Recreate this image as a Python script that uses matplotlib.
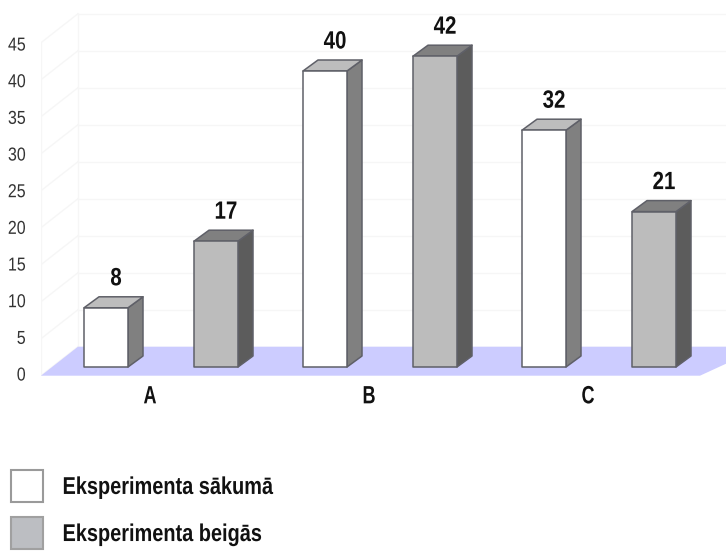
import matplotlib
matplotlib.use("Agg")
import matplotlib.pyplot as plt
from matplotlib.patches import Polygon, Patch
from matplotlib.patheffects import AbstractPathEffect
from matplotlib.transforms import Affine2D
import numpy as np

groups = ["A", "B", "C"]
start_values = [8, 40, 32]
end_values = [17, 42, 21]
series_labels = ["Eksperimenta sākumā", "Eksperimenta beigās"]
value_ticks = [0, 5, 10, 15, 20, 25, 30, 35, 40, 45]

W, H = 726, 552
PX_PER_UNIT = 7.4
PX_PER_GROUP = 219.0
FONT = ["Liberation Sans", "DejaVu Sans"]


class Squeeze(AbstractPathEffect):
    """Condense a text horizontally around its left, centre or right edge."""

    def __init__(self, text, factor, anchor="center"):
        super().__init__()
        self.text, self.factor, self.anchor = text, factor, anchor

    def draw_path(self, renderer, gc, tpath, affine, rgbFace=None):
        bb = self.text.get_window_extent(renderer)
        cx = {"left": bb.x0, "center": (bb.x0 + bb.x1) / 2, "right": bb.x1}[self.anchor]
        squeezed = affine + Affine2D().translate(-cx, 0).scale(self.factor, 1).translate(cx, 0)
        renderer.draw_path(gc, tpath, squeezed, rgbFace)


def condense(text, factor, anchor="center"):
    text.set_path_effects([Squeeze(text, factor, anchor)])


# Pixel-sized extrusion expressed in data units
dx = 15 / PX_PER_GROUP
dy = 11 / PX_PER_UNIT
bar_w = 44 / PX_PER_GROUP
floor_front = -8.7 / PX_PER_UNIT
floor_back = 20.3 / PX_PER_UNIT
wall_dx = 37 / PX_PER_GROUP

fig = plt.figure(figsize=(W / 100, H / 100), dpi=100, facecolor="white")
left, right, bottom, top = 41, 726, 376, 0
ax = fig.add_axes([left / W, 1 - bottom / H, (right - left) / W, (bottom - top) / H])
ax.set_xlim((left - 150) / PX_PER_GROUP, (right - 150) / PX_PER_GROUP)
ax.set_ylim((367 - bottom) / PX_PER_UNIT, (367 - top) / PX_PER_UNIT)
for s in ax.spines.values():
    s.set_visible(False)

x0, x1 = ax.get_xlim()

# Back wall and side wall grid lines
grid_c = "#f6f6f6"
for v in value_ticks:
    ax.plot([x0 + wall_dx, x1], [floor_back + v] * 2, color=grid_c, lw=1, zorder=1)
    ax.plot([x0, x0 + wall_dx], [floor_front + v, floor_back + v], color=grid_c, lw=1, zorder=1)
ax.plot([x0 + 0.002] * 2, [floor_front, floor_front + 45], color=grid_c, lw=1, zorder=1)
ax.plot([x0 + wall_dx] * 2, [floor_back, floor_back + 45], color=grid_c, lw=1, zorder=1)

# Floor
ax.add_patch(Polygon(
    [(x0, floor_front), (x0 + wall_dx, floor_back),
     (x1 + wall_dx, floor_back), ((700 - 150) / PX_PER_GROUP, floor_front)],
    closed=True, fc="#ccccff", ec="none", zorder=2))


def box(x, value, front, lid, side):
    """Draw one extruded bar with its front, top and side faces."""
    edge = dict(ec="#5f6068", lw=1.1, joinstyle="round", zorder=3)
    xr = x + bar_w
    ax.add_patch(Polygon([(xr, 0), (xr + dx, dy), (xr + dx, value + dy), (xr, value)],
                         fc=side, **edge))
    ax.add_patch(Polygon([(x, value), (xr, value), (xr + dx, value + dy), (x + dx, value + dy)],
                         fc=lid, **edge))
    ax.add_patch(Polygon([(x, 0), (xr, 0), (xr, value), (x, value)], fc=front, **edge))
    label = ax.text(x + bar_w / 2 + 10 / PX_PER_GROUP, value + 32 / PX_PER_UNIT, str(value),
                    ha="center", va="center_baseline", fontsize=18, fontweight="bold",
                    family=FONT, color="#111111", zorder=4)
    condense(label, 0.82)


pos = np.arange(len(groups))
for i in pos:
    box(i - 66 / PX_PER_GROUP, start_values[i], "#ffffff", "#bdbdbd", "#808080")
    box(i + 44 / PX_PER_GROUP, end_values[i], "#bcbcbc", "#808080", "#5c5c5c")

ax.set_xticks(pos, groups, family=FONT, fontsize=18, fontweight="bold", color="#111111")
ax.set_yticks(np.array(value_ticks) * 0.991 - 0.95, [str(v) for v in value_ticks],
              family=FONT, fontsize=13.5, color="#333333")
ax.tick_params(axis="x", length=0, pad=6)
ax.tick_params(axis="y", length=0, pad=11)
for t in ax.get_xticklabels():
    condense(t, 0.72)
for t in ax.get_yticklabels():
    t.set_verticalalignment("center_baseline")
    condense(t, 0.85, "right")

handles = [Patch(fc="#ffffff", ec="#9a9a9a", lw=1.5), Patch(fc="#bcbec2", ec="#a0a0a0", lw=1.5)]
legend = fig.legend(handles, series_labels, loc="upper left",
                    bbox_to_anchor=(11 / W, 1 - 470 / H), bbox_transform=fig.transFigure,
                    frameon=False, borderpad=0, borderaxespad=0,
                    handlelength=1.32, handleheight=1.65, handletextpad=0.8, labelspacing=0.62,
                    prop=dict(family=FONT, weight="bold", size=17.5), labelcolor="#111111")
for t in legend.get_texts():
    condense(t, 0.82, "left")

fig.savefig("out.png", dpi=100, facecolor="white")
